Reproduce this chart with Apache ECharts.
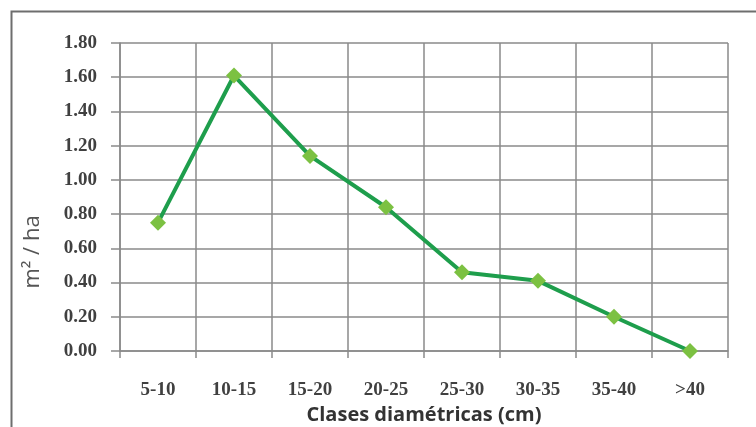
<!DOCTYPE html>
<html><head><meta charset="utf-8">
<script src="https://cdn.jsdelivr.net/npm/echarts@6/dist/echarts.min.js"></script>
<style>html,body{margin:0;padding:0;background:#fff}#c{width:756px;height:427px}</style>
</head><body><div id="c"></div>
<script>
const categories = ['5-10','10-15','15-20','20-25','25-30','30-35','35-40','>40'];
const values = [0.75, 1.61, 1.14, 0.84, 0.46, 0.41, 0.20, 0.00];
const yTicks = {min: 0, max: 1.8, interval: 0.2};
const xTitle = 'Clases diamétricas (cm)';
const yTitle = 'm² / ha';

const chart = echarts.init(document.getElementById('c'), null, {renderer: 'canvas'});
const gridColor = '#8a8a8a';
chart.setOption({
  animation: false,
  backgroundColor: '#fff',
  graphic: [{
    type: 'rect', left: 9, top: 9, silent: true,
    shape: {width: 800, height: 500},
    style: {fill: 'none', stroke: '#6e6e6e', lineWidth: 2}
  }, {
    type: 'text', x: 33, y: 252, rotation: Math.PI / 2, silent: true,
    style: {text: yTitle, font: '22px "Open Sans"', fill: '#555', align: 'center', verticalAlign: 'middle'}
  }],
  grid: {left: 120, right: 28, top: 43, bottom: 76, containLabel: false, outerBoundsMode: 'none'},
  xAxis: {
    type: 'category', data: categories, boundaryGap: true,
    name: xTitle, nameLocation: 'middle', nameGap: 51,
    nameTextStyle: {fontFamily: 'Open Sans', fontWeight: 'bold', fontSize: 20, color: '#333'},
    axisLine: {show: true, lineStyle: {color: gridColor, width: 1.5}},
    axisTick: {show: true, length: 7, alignWithLabel: false, lineStyle: {color: gridColor, width: 1.5}},
    axisLabel: {margin: 30, fontFamily: 'Liberation Serif', fontWeight: 'bold', fontSize: 19, color: '#404040'},
    splitLine: {show: true, lineStyle: {color: gridColor, width: 1.5}}
  },
  yAxis: {
    type: 'value', min: yTicks.min, max: yTicks.max, interval: yTicks.interval,
    axisLine: {show: true, lineStyle: {color: gridColor, width: 1.5}},
    axisTick: {show: true, length: 9, lineStyle: {color: gridColor, width: 1.5}},
    axisLabel: {margin: 23, fontFamily: 'Liberation Serif', fontWeight: 'bold', fontSize: 19, color: '#404040',
      formatter: v => v.toFixed(2)},
    splitLine: {show: true, lineStyle: {color: gridColor, width: 1.5}}
  },
  series: [{
    type: 'line', data: values,
    symbol: 'diamond', symbolSize: 16,
    lineStyle: {color: '#1e9e4c', width: 4},
    itemStyle: {color: '#7cc142', borderWidth: 0},
    z: 5
  }]
});
</script></body></html>
